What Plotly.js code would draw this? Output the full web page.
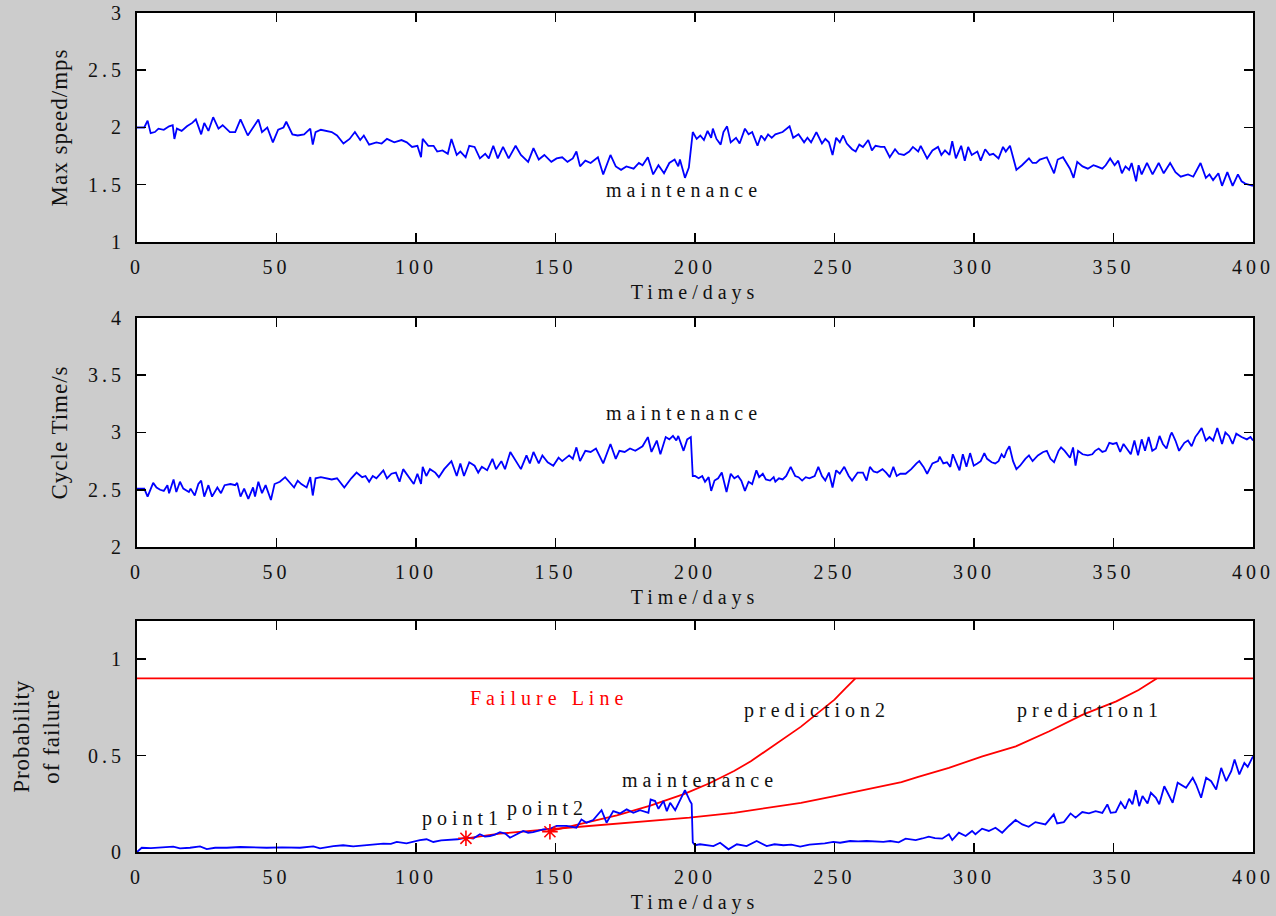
<!DOCTYPE html>
<html>
<head>
<meta charset="utf-8">
<script src="https://cdn.plot.ly/plotly-3.0.1.min.js"></script>
<style>
html,body{margin:0;padding:0;background:#cccccc;}
#chart{width:1276px;height:916px;}
.xtick text,.ytick text,.x2tick text,.y2tick text,.x3tick text,.y3tick text{letter-spacing:4px;}
.xtitle,.x2title,.x3title{letter-spacing:5px;}
.ytitle,.y2title,.y3title{letter-spacing:1px;}
.annotation-text{letter-spacing:5px;}
</style>
</head>
<body>
<div id="chart"></div>
<script>
// ---------- Panel 1: Max speed ----------
const speedDays = [0,2.6,3.8,4.9,6.4,7.7,9.6,11.5,12.8,13.4,14.3,16,17.9,19.8,21.1,22,23,24.1,25.6,27.3,29.2,30.7,33.3,35.2,37.1,39.7,41.6,43.5,44.8,46.7,48.7,50.6,52.5,53.5,55.7,57.6,59.9,62.1,63,64,65.9,69.8,71.7,74,76.2,78.1,80,81.3,83.2,85.8,87.7,89.6,92.2,94.8,96.7,98.6,100.5,101.8,102.4,104.4,106.3,107.6,109.5,111.4,112.7,114.6,115.9,117.8,119.1,121,122.9,124.8,126.1,127.7,129.3,131.2,133.2,135.7,137.6,140.2,142.1,144,146,148.5,150.4,152.4,154.3,156.2,157.5,158.8,160.7,162.6,165.2,167.1,169.7,171.6,173.5,175.4,178,179.9,181.2,183.1,185,186.9,188.9,190.8,192.7,194,194.6,196.4,197.8,199.2,
  200.6,201.9,203.2,204.5,205.8,206.4,207.7,209.2,210.2,211.5,212.8,214.7,216,217.9,219.2,220.5,222.4,223.7,225,226.2,227.5,228.8,231.4,233.9,235.2,237.1,239.1,240.3,241.6,243.5,245.5,246.7,248,249.3,250.6,251.9,253.1,254.4,256.3,257.6,258.9,260.2,262.1,263.4,264.7,266.6,267.9,269.8,271.7,273,274.9,276.8,278.1,280,280.9,283.2,285.1,287.1,288.3,289.6,291.2,292.2,293.5,295.4,296.7,297.9,299.2,301.2,302.4,304,305.6,306.9,308.8,310.4,311.4,312.9,315.2,317.2,319.7,321,322.3,323.6,326.1,328.7,330,331.9,334.4,335.7,337,338.9,340.8,342.8,344,346,347.2,348.8,350.4,351.7,353,354.3,355.6,356.5,358.1,359,360.1,362,364,366.2,368,370.3,372.2,374.1,376.7,378.6,381.2,383.1,384.4,385.7,387.6,388.9,390.8,392.7,394.6,395.9,397.2,398.5,400];
const speedVals = [2.00,2.00,2.06,1.95,1.96,1.99,1.98,2.01,2.02,1.90,1.99,1.97,2.01,2.04,2.07,2.00,1.94,2.04,1.97,2.09,1.99,2.02,1.96,1.96,2.07,1.93,2.00,2.07,1.96,2.00,1.87,1.98,2.00,2.05,1.94,1.93,1.94,1.99,1.85,1.96,1.98,1.96,1.93,1.86,1.90,1.96,1.89,1.93,1.85,1.87,1.86,1.90,1.87,1.89,1.87,1.83,1.84,1.74,1.90,1.84,1.84,1.79,1.80,1.77,1.90,1.76,1.79,1.74,1.84,1.83,1.73,1.77,1.73,1.84,1.73,1.83,1.73,1.84,1.76,1.70,1.82,1.72,1.76,1.70,1.73,1.74,1.70,1.73,1.79,1.66,1.71,1.69,1.74,1.59,1.76,1.66,1.63,1.66,1.64,1.69,1.67,1.74,1.59,1.67,1.60,1.69,1.72,1.66,1.72,1.56,1.65,1.96,
  1.90,1.93,1.89,1.97,1.91,1.99,1.90,1.85,1.96,2.01,1.87,1.91,1.86,1.99,1.94,1.96,1.84,1.93,1.89,1.94,1.91,1.94,1.96,2.01,1.91,1.94,1.87,1.91,1.87,1.96,1.86,1.90,1.87,1.76,1.91,1.87,1.93,1.86,1.81,1.79,1.85,1.83,1.89,1.80,1.84,1.83,1.83,1.74,1.81,1.77,1.76,1.79,1.83,1.79,1.84,1.73,1.80,1.83,1.76,1.80,1.76,1.88,1.73,1.84,1.71,1.83,1.76,1.79,1.71,1.81,1.76,1.77,1.73,1.83,1.79,1.84,1.63,1.67,1.73,1.69,1.69,1.72,1.74,1.60,1.72,1.74,1.64,1.56,1.70,1.66,1.64,1.67,1.66,1.64,1.67,1.73,1.67,1.71,1.60,1.66,1.63,1.69,1.53,1.67,1.59,1.69,1.59,1.69,1.60,1.69,1.61,1.57,1.59,1.57,1.69,1.56,1.59,1.54,1.60,1.49,1.61,1.49,1.59,1.53,1.51,1.50,1.49];

// ---------- Panel 2: Cycle time ----------
const cycleDays = [0,2.6,3.8,5.8,7,8.3,9.6,10.9,11.5,13.1,14.1,15.4,16.6,18.6,19.2,20.7,22,23,24.1,25.6,26.9,28.8,30.1,31.4,33.5,35.2,35.9,37.1,38.4,39.9,41.6,42.3,43.5,44.8,46.1,48,49.3,51.2,53.1,55.1,56.3,57.6,58.9,60.8,62.1,63,64,65.9,69.8,71.7,74.3,76.8,78.7,80.7,81.9,83.2,84.5,85.8,88.3,89.6,91.2,92.8,94.1,95.4,97.3,99.2,100.5,101.8,102.4,103.7,105,106.9,108.2,110.1,112.7,114.6,115.9,117.2,119.1,121,122.3,123.6,125.5,127.4,128.7,130.6,131.9,133.8,137.6,139.6,140.8,142.1,144,145.3,147.2,149.2,151.1,152.4,154.9,156.2,157.5,158.8,160.7,162.6,164.5,167.1,169.7,171.6,172.9,174.8,176.7,178.6,181.2,183.1,184.4,186.3,187.6,189.5,190.8,192.1,193.3,194,195.9,197.2,198.5,199.2,
  200,201.3,202.6,203.6,204.9,205.8,207,208.3,209.6,211.3,212.8,214.1,215.4,216.6,217.9,219.2,220.5,222,223,224.3,225.4,226.9,228.2,228.8,230.1,231.4,232.7,234.3,235.9,237.1,238.4,239.7,241,242.9,244.2,245.5,246.7,248,249.3,250.6,251.9,253.5,255.1,256.3,258.3,260.2,261.5,262.7,264,265.3,267.2,268.5,269.8,271.1,272.3,273.6,275.5,277.5,279.4,280.4,281.9,283.2,285.1,287.1,287.7,289,290.3,291.5,292.4,293.5,294.8,296,297.3,298.6,299.9,301.2,302.4,303.7,304.7,306.3,307.6,308.8,309.9,310.8,311.7,312.7,314,315.2,316.5,318.4,319.7,321,322.9,324.8,326.1,327.4,328.7,330.3,331.2,332.5,334.4,335.5,336.4,337.3,338.9,340.8,342.4,343.4,344.7,346,347.2,348.5,349.8,351.1,352.4,353.6,354.9,356.2,357.5,358.8,360.1,361.3,362.6,363.9,365.2,366.5,367.7,369,370.3,370.9,372.2,373.5,375.4,376.7,378,379.3,380.5,381.6,383.1,384.4,385.7,387.2,388.9,390.1,391.4,392.7,394,395.9,397.8,399.1,400];
const cycleVals = [2.51,2.51,2.44,2.56,2.52,2.50,2.49,2.54,2.47,2.59,2.48,2.57,2.51,2.48,2.51,2.45,2.55,2.58,2.44,2.54,2.44,2.52,2.47,2.54,2.55,2.54,2.56,2.44,2.51,2.42,2.52,2.44,2.57,2.47,2.54,2.41,2.55,2.57,2.61,2.55,2.52,2.58,2.55,2.52,2.61,2.45,2.60,2.61,2.59,2.60,2.52,2.60,2.65,2.61,2.62,2.57,2.62,2.60,2.67,2.60,2.64,2.65,2.57,2.68,2.61,2.55,2.64,2.55,2.70,2.62,2.68,2.65,2.61,2.68,2.75,2.62,2.73,2.62,2.74,2.71,2.65,2.70,2.67,2.77,2.68,2.75,2.68,2.83,2.68,2.80,2.73,2.83,2.73,2.80,2.74,2.71,2.78,2.75,2.80,2.77,2.87,2.75,2.84,2.83,2.86,2.73,2.90,2.77,2.84,2.83,2.86,2.84,2.88,2.96,2.83,2.93,2.81,2.96,2.94,2.97,2.93,2.97,2.84,2.94,2.96,2.62,
  2.62,2.60,2.62,2.57,2.61,2.49,2.58,2.60,2.65,2.48,2.64,2.60,2.62,2.58,2.49,2.57,2.55,2.67,2.61,2.64,2.59,2.58,2.61,2.57,2.60,2.59,2.62,2.70,2.62,2.61,2.58,2.61,2.60,2.62,2.70,2.62,2.58,2.65,2.52,2.67,2.64,2.70,2.62,2.58,2.65,2.65,2.58,2.70,2.66,2.65,2.68,2.65,2.61,2.70,2.62,2.64,2.64,2.68,2.73,2.75,2.70,2.64,2.73,2.75,2.79,2.73,2.74,2.70,2.81,2.74,2.67,2.81,2.70,2.82,2.71,2.73,2.75,2.82,2.77,2.74,2.73,2.75,2.81,2.78,2.84,2.88,2.75,2.68,2.71,2.77,2.80,2.75,2.80,2.83,2.84,2.77,2.74,2.84,2.87,2.84,2.78,2.87,2.71,2.84,2.81,2.80,2.81,2.84,2.86,2.83,2.84,2.91,2.90,2.91,2.83,2.90,2.86,2.81,2.93,2.80,2.94,2.84,2.96,2.84,2.86,2.97,2.90,2.86,2.97,3.00,2.93,2.84,2.91,2.93,2.88,2.96,3.00,3.04,2.93,2.96,2.93,3.04,2.90,3.00,2.97,2.90,2.99,2.96,2.94,2.96,2.93];

// ---------- Panel 3: Probability of failure ----------
const probDays = [0,1.7,5,8,13,15.4,19,22.6,25,28,32.2,37,42,46.5,52,58.4,63.2,65.6,70.4,73.9,77.5,80,83.5,88.3,91,93.1,96.6,100.2,101.4,103.8,106.2,109,112.2,115,118.1,120.5,122.9,124.7,126.5,128.3,130.1,132,133.7,136,138.4,140.2,142,145.6,148,150.4,154,157.5,159.3,161.1,163.5,166.5,168.3,170.7,173.1,175.5,177.9,180.3,183.3,184.1,185.7,186.9,188.7,189.9,191.1,192.9,194.6,196.4,198.2,198.8,199.2,200,201.8,204,206.6,209,212,215,218.5,222.1,225.7,228.5,231.7,234.5,237.7,241,243.6,246.5,249.6,252,255.6,258.5,261.5,264.5,267.5,270,273,275.5,279.1,281.5,283.8,286,288.6,291,292.2,294.6,297,299.3,300.5,302.9,305.3,307.7,310.1,312.5,314.9,317.3,319.6,322,325.6,328.6,329.8,332.2,334.6,336.4,338.8,341.2,343.6,346,347.8,349,350.8,352.6,354.2,355.6,356.8,358,359.2,360.4,362.2,363.4,365.2,366.4,368.2,369.4,371.2,373,374.8,376,378.4,379.6,381.4,383.2,385,386.8,388.6,390.4,392.2,393.4,395.1,396.9,398.1,400];
const probVals = [0.0,0.022,0.02,0.022,0.028,0.019,0.022,0.029,0.015,0.022,0.022,0.026,0.022,0.022,0.024,0.022,0.029,0.019,0.031,0.035,0.029,0.033,0.035,0.043,0.042,0.052,0.045,0.057,0.062,0.066,0.052,0.06,0.062,0.066,0.074,0.07,0.092,0.08,0.083,0.09,0.103,0.095,0.074,0.09,0.109,0.1,0.103,0.117,0.12,0.135,0.135,0.126,0.169,0.152,0.166,0.217,0.152,0.212,0.2,0.221,0.203,0.217,0.203,0.272,0.264,0.224,0.264,0.212,0.255,0.217,0.272,0.321,0.264,0.25,0.05,0.035,0.04,0.035,0.031,0.048,0.014,0.04,0.031,0.057,0.031,0.04,0.035,0.038,0.028,0.038,0.04,0.045,0.052,0.048,0.057,0.055,0.057,0.055,0.052,0.057,0.05,0.069,0.062,0.07,0.08,0.072,0.069,0.092,0.062,0.1,0.083,0.109,0.092,0.121,0.109,0.126,0.1,0.135,0.166,0.143,0.131,0.155,0.143,0.195,0.148,0.155,0.2,0.178,0.207,0.2,0.212,0.203,0.247,0.203,0.207,0.259,0.224,0.276,0.247,0.321,0.238,0.29,0.252,0.307,0.281,0.247,0.341,0.307,0.255,0.359,0.341,0.333,0.385,0.35,0.281,0.385,0.367,0.324,0.436,0.367,0.419,0.479,0.402,0.462,0.441,0.496];

const pred1Days = [117.9,130,148,166,184,198,214,226,238,250,262,274,280,291,303,315,327,339,351,359,365.5];
const pred1Vals = [0.071,0.095,0.118,0.14,0.16,0.178,0.203,0.229,0.255,0.29,0.325,0.362,0.39,0.436,0.496,0.548,0.626,0.712,0.781,0.84,0.9];
const pred2Days = [148,160,172,184,196,205,214,220,226,232,238,244,250,254,257.5];
const pred2Vals = [0.108,0.15,0.19,0.24,0.30,0.355,0.42,0.47,0.53,0.59,0.65,0.72,0.79,0.85,0.9];
const failureDays = [0,400];
const failureVals = [0.9,0.9];
const pointDays = [117.9,148];
const pointVals = [0.071,0.105];

// ---------- Text ----------
const xTitle = 'Time/days';
const yTitles = ['Max speed/mps','Cycle Time/s','Probability<br>of failure'];
const xTickVals = [0,50,100,150,200,250,300,350,400];

const F = 'Liberation Serif, Times New Roman, serif';
const BLUE = '#0000ff', RED = '#ff0000', INK = '#111111';

function xAxis(anchor){
  return {anchor:anchor, range:[0,400], tickvals:xTickVals, ticks:'inside', ticklen:9, tickwidth:1.5,
    tickcolor:'#000', showline:true, linecolor:'#000', linewidth:2, mirror:'ticks', showgrid:false,
    zeroline:false, ticklabelstandoff:6, tickfont:{family:F,size:20,color:INK},
    title:{text:xTitle, font:{family:F,size:20,color:INK}, standoff:8}};
}
function yAxis(anchor, domain, range, dtick, title, standoff){
  return {anchor:anchor, domain:domain, range:range, dtick:dtick, tick0:0, ticks:'inside', ticklen:9,
    tickwidth:1.5, tickcolor:'#000', showline:true, linecolor:'#000', linewidth:2, mirror:'ticks',
    showgrid:false, zeroline:false, ticklabelstandoff:6, tickfont:{family:F,size:20,color:INK},
    title:{text:title, font:{family:F,size:23,color:INK}, standoff:standoff}};
}

const line = (c)=>({color:c, width:1.8});
const traces = [
  {x:speedDays, y:speedVals, xaxis:'x', yaxis:'y', mode:'lines', line:line(BLUE), hoverinfo:'skip'},
  {x:cycleDays, y:cycleVals, xaxis:'x2', yaxis:'y2', mode:'lines', line:line(BLUE), hoverinfo:'skip'},
  {x:failureDays, y:failureVals, xaxis:'x3', yaxis:'y3', mode:'lines', line:line(RED), hoverinfo:'skip'},
  {x:pred1Days, y:pred1Vals, xaxis:'x3', yaxis:'y3', mode:'lines', line:line(RED), hoverinfo:'skip'},
  {x:pred2Days, y:pred2Vals, xaxis:'x3', yaxis:'y3', mode:'lines', line:line(RED), hoverinfo:'skip'},
  {x:probDays, y:probVals, xaxis:'x3', yaxis:'y3', mode:'lines', line:line(BLUE), hoverinfo:'skip'},
  {x:pointDays, y:pointVals, xaxis:'x3', yaxis:'y3', mode:'markers',
    marker:{symbol:'asterisk-open', size:13, color:RED, opacity:1, line:{color:RED, width:1.6}}, hoverinfo:'skip'}
];

const tf = {family:F, size:20, color:INK};
const annotations = [
  {xref:'x', yref:'y', x:196.2, y:1.455, text:'maintenance', showarrow:false, font:tf},
  {xref:'x2', yref:'y2', x:196.2, y:3.17, text:'maintenance', showarrow:false, font:tf},
  {xref:'x3', yref:'y3', x:147.7, y:0.80, text:'Failure Line', showarrow:false, font:{family:F,size:20,color:RED}},
  {xref:'x3', yref:'y3', x:243.7, y:0.732, text:'prediction2', showarrow:false, font:tf},
  {xref:'x3', yref:'y3', x:341.6, y:0.732, text:'prediction1', showarrow:false, font:tf},
  {xref:'x3', yref:'y3', x:201.8, y:0.374, text:'maintenance', showarrow:false, font:tf},
  {xref:'x3', yref:'y3', x:116.5, y:0.176, text:'point1', showarrow:false, font:tf},
  {xref:'x3', yref:'y3', x:147, y:0.228, text:'point2', showarrow:false, font:tf}
];

const layout = {
  width:1276, height:916, paper_bgcolor:'#cccccc', plot_bgcolor:'#ffffff',
  margin:{l:137, r:23, t:13, b:64}, showlegend:false,
  font:{family:F, color:INK},
  xaxis:xAxis('y'), xaxis2:xAxis('y2'), xaxis3:xAxis('y3'),
  yaxis:yAxis('x', [0.7271,1], [1,3], 0.5, yTitles[0], 14),
  yaxis2:yAxis('x2', [0.3635,0.6365], [2,4], 0.5, yTitles[1], 14),
  yaxis3:yAxis('x3', [0,0.2759], [0,1.2], 0.5, yTitles[2], 22),
  annotations:annotations
};

Plotly.newPlot('chart', traces, layout, {displayModeBar:false, staticPlot:true});
</script>
</body>
</html>
